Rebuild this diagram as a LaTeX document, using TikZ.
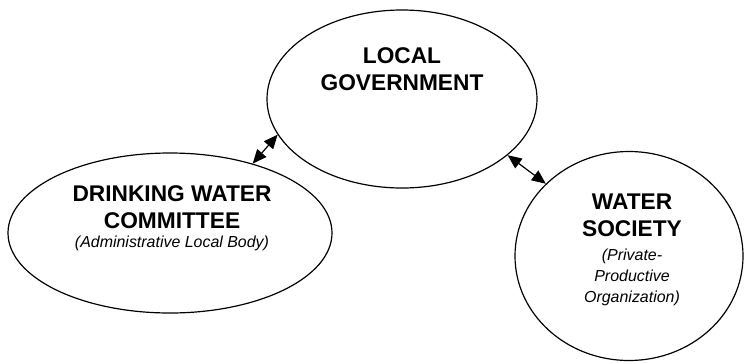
\documentclass[tikz,border=0pt]{standalone}
\usepackage{fontspec}
\setmainfont{Liberation Sans}
\usetikzlibrary{shapes.geometric, arrows.meta}

\begin{document}
\begin{tikzpicture}[x=1bp, y=-1bp, >={Triangle[length=14bp,width=12bp]}, line width=1.2pt]
    \tikzstyle{actor}=[draw, ellipse, inner sep=0pt]
    \tikzstyle{title}=[font=\fontsize{22.8}{26.5}\selectfont\bfseries, align=center, inner sep=0pt]
    \tikzstyle{note}=[font=\fontsize{16}{21}\selectfont\itshape, align=center, inner sep=0pt]

    \useasboundingbox (0,0) rectangle (744,363);

    % the three bodies
    \node[actor, minimum width=270bp, minimum height=178bp] (lg) at (402,99) {};
    \node[actor, minimum width=324bp, minimum height=160bp] (dwc) at (170,233) {};
    \node[actor, minimum width=228bp, minimum height=209bp] (ws) at (629,256) {};

    % names (base = last line)
    \node[title, anchor=base] (lgname) at (402,90) {LOCAL\\GOVERNMENT};
    \node[title, anchor=base] (dwcname) at (172,228) {DRINKING WATER\\COMMITTEE};
    \node[note, anchor=base] (dwcnote) at (172,247) {(Administrative Local Body)};
    \node[title, anchor=base] (wsname) at (632,236) {WATER\\SOCIETY};
    \node[note, anchor=base] (wsnote) at (632,302) {(Private-\\Productive\\Organization)};

    \path[<->]
    (dwc.40) edge (lg.196.4)
    (lg.-28) edge (ws.139);
\end{tikzpicture}
\end{document}
